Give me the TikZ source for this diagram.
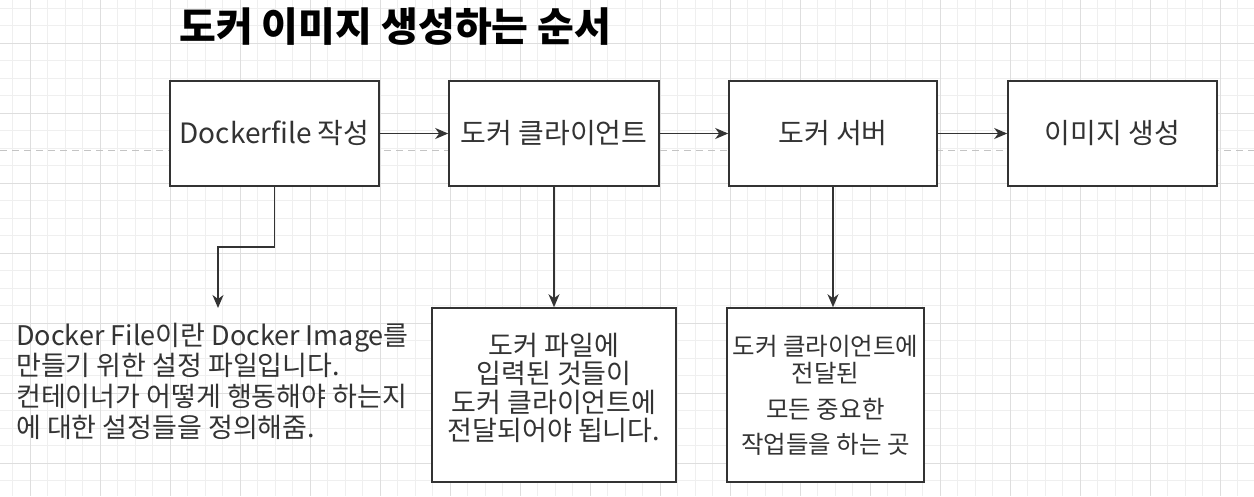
\documentclass[tikz,border=0pt]{standalone}
\usepackage{fontspec}
\setmainfont{Noto Sans CJK KR}
\usetikzlibrary{arrows.meta}
\definecolor{ink}{HTML}{333333}
\definecolor{gridminor}{HTML}{EFEFEF}
\definecolor{gridmajor}{HTML}{DEDEDE}
\definecolor{dashgray}{HTML}{C4C4C4}
\tikzset{
  stepbox/.style={draw=ink, line width=1.6pt, fill=white, text=ink, align=center, inner sep=0pt},
  arr/.style={draw=ink, line width=1.5pt, -{Stealth[length=13pt,width=11pt,inset=4pt]}},
  boxfont/.style={font=\fontsize{28}{32}\selectfont}
}
\begin{document}
\begin{tikzpicture}[x=1pt,y=-1pt]
\useasboundingbox (0,0) rectangle (1254,496);
\fill[white] (0,0) rectangle (1254,496);
% grid
\foreach \i in {-1,...,69} \draw[gridminor, line width=0.9pt] ({30+17.5*\i},0) -- ({30+17.5*\i},496);
\foreach \i in {-2,...,25} \draw[gridminor, line width=0.9pt] (0,{43+17.5*\i}) -- (1254,{43+17.5*\i});
\foreach \i in {0,...,17} \draw[gridmajor, line width=1pt] ({30+70*\i},0) -- ({30+70*\i},496);
\foreach \i in {0,...,6} \draw[gridmajor, line width=1pt] (0,{43+70*\i}) -- (1254,{43+70*\i});
\draw[dashgray, line width=1pt, dash pattern=on 7pt off 5pt] (0,150) -- (1254,150);
% title
\node[anchor=west, inner sep=0pt, font=\fontsize{40}{44}\selectfont\bfseries] (title) at (179,27) {도커 이미지 생성하는 순서};
% top boxes
\node[stepbox, boxfont, minimum width=209pt, minimum height=105pt] (b1) at (274.5,133.5) {Dockerfile 작성};
\node[stepbox, boxfont, minimum width=210pt, minimum height=105pt] (b2) at (554,133.5) {도커 클라이언트};
\node[stepbox, boxfont, minimum width=208pt, minimum height=105pt] (b3) at (833,133.5) {도커 서버};
\node[stepbox, boxfont, minimum width=209pt, minimum height=105pt] (b4) at (1112.5,133.5) {이미지 생성};
% bottom boxes
\node[stepbox, minimum width=244pt, minimum height=174pt, font=\fontsize{27}{28.5}\selectfont] (b5) at (554,395) {도커 파일에\\입력된 것들이\\도커 클라이언트에\\전달되어야 됩니다.\\[-12pt]\mbox{}};
\node[stepbox, minimum width=197pt, minimum height=174pt, font=\fontsize{24.5}{27}\selectfont] (b6) at (825.5,395) {도커 클라이언트에\\전달된\\[9pt]모든 중요한\\[8pt]작업들을 하는 곳};
% free text
\node[anchor=west, inner sep=0pt, align=left, text=ink, font=\fontsize{27}{30.7}\selectfont] (note) at (16,381) {Docker File이란 Docker Image를\\만들기 위한 설정 파일입니다.\\컨테이너가 어떻게 행동해야 하는지\\에 대한 설정들을 정의해줌.};
\coordinate (tip) at (218,308);
% connectors
\draw[arr] (b1) -- (b2);
\draw[arr] (b2) -- (b3);
\draw[arr] (b3) -- (b4);
\draw[arr] (b1.south) -- ++(0,60) -| (tip);
\draw[arr] (b2.south) -- (b5.north);
\draw[arr] (b3.south) -- (b3.south |- b6.north);
\end{tikzpicture}
\end{document}
